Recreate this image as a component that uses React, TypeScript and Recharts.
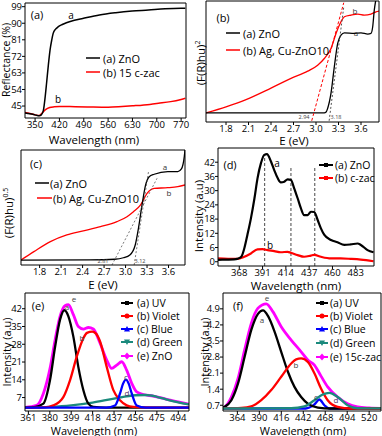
import React from 'react';
import { LineChart, Line, XAxis, YAxis, ReferenceLine } from 'recharts';

const FONT = '"Open Sans", sans-serif';
const W = 382;
const H = 436;

// ---------- Panel (a): reflectance ----------
const aTicksX = [350, 420, 490, 560, 630, 700, 770];
const aTicksY = [45, 54, 63, 72, 81, 90, 99];
const aZnOX = [321, 335, 350, 362, 368, 374, 379, 383, 388, 393, 398, 402, 409, 416, 428, 440, 463, 487, 535, 582, 629, 676, 724, 770, 782];
const aZnOY = [41.2, 40.8, 40.2, 39.7, 40.2, 42.8, 50, 57.4, 67, 75.4, 81, 84.5, 86.8, 88, 89.3, 90.3, 91.6, 92.6, 94.5, 95.7, 96.6, 97.2, 97.9, 98.1, 98.2];
const aCzacX = [321, 335, 350, 362, 370, 380, 392, 405, 420, 450, 500, 560, 600, 630, 680, 705, 740, 770, 782];
const aCzacY = [41.5, 41, 40.2, 39.9, 41.2, 43, 44.2, 44.6, 44.8, 44.7, 44.5, 44.3, 44.7, 45.1, 45.9, 46.5, 47.4, 48.6, 49.2];

// ---------- Panel (b): (F(R)hv)^2 ----------
const bTicksX = [1.8, 2.1, 2.4, 2.7, 3.0, 3.3, 3.6];
const bZnOX = [1.53, 2.5, 3.11, 3.135, 3.156, 3.2, 3.244, 3.289, 3.333, 3.378, 3.51, 3.6, 3.69, 3.733, 3.756, 3.777, 3.795];
const bZnOY = [7.5, 7.5, 7.6, 8.3, 11.4, 23.8, 45.6, 65, 71.8, 73.7, 73.2, 73.7, 72.7, 73.2, 78.7, 92.5, 100];
const bAgCuX = [1.533, 1.8, 2.067, 2.4, 2.667, 2.889, 3.022, 3.111, 3.2, 3.267, 3.333, 3.378, 3.467, 3.556, 3.644, 3.733, 3.8, 3.84];
const bAgCuY = [7.5, 12.5, 18.5, 28, 36, 42, 47, 52.5, 60.8, 73.2, 82.9, 87, 88.4, 89.2, 88.4, 89.2, 91.1, 91.7];

// ---------- Panel (c): (F(R)hv)^0.5 ----------
const cTicksX = [1.8, 2.1, 2.4, 2.7, 3.0, 3.3, 3.6];
const cZnOX = [1.54, 2.5, 2.85, 2.97, 3.06, 3.135, 3.18, 3.23, 3.28, 3.33, 3.4, 3.59, 3.73, 3.78, 3.82, 3.83];
const cZnOY = [4.3, 4.5, 5, 6.3, 8.7, 17.4, 31.9, 52.2, 69.6, 76.8, 78.9, 81.2, 81.2, 83.5, 94.2, 100];
const cAgCuX = [1.54, 1.72, 1.95, 2.18, 2.41, 2.65, 2.88, 3.02, 3.11, 3.21, 3.3, 3.4, 3.59, 3.73, 3.83];
const cAgCuY = [4.3, 11.6, 20.3, 26.1, 29.6, 33.3, 37.7, 42, 46.3, 52.2, 62.3, 66.7, 67.2, 68.1, 69.6];

// ---------- Panel (d): PL spectra ----------
const dTicksX = [368, 391, 414, 437, 460, 483];
const dTicksY = [0, 6, 12, 18, 24, 30, 36, 42];
const dZnOX = [347, 355, 363, 366, 370, 373, 376, 379.5, 383, 386, 389.4, 392.7, 395.3, 399.3, 402.5, 406, 409, 412.4, 415.7, 419, 422.2, 425.6, 428.8, 432, 435.5, 438.7, 442, 445.4, 448.6, 452, 458.5, 465, 471.6, 478, 484.8, 488, 494.6, 500.5];
const dZnOY = [0.8, 0.9, 1.0, 1.2, 2.1, 5.7, 11.3, 18.3, 26.8, 35.2, 41.6, 45.1, 45.4, 42.3, 38.7, 35.2, 33.5, 33.8, 34.8, 34.5, 31, 26.8, 22.6, 19.7, 19.7, 21.1, 21, 17.6, 14.1, 11.3, 9.2, 8.2, 7.1, 7.3, 7.7, 7.1, 4.9, 4];
const dCzacX = [347, 357, 366, 373, 379.5, 386, 391, 396, 402.5, 409, 415.7, 419, 425.6, 432, 438.7, 442, 448.6, 458.5, 468, 478, 488, 500.5];
const dCzacY = [1.4, 1.2, 1.2, 2.1, 3.5, 5.2, 5.3, 4.9, 4.5, 4.0, 4.2, 3.8, 2.8, 2.1, 2.6, 2.9, 2.1, 1.4, 1.4, 1.2, 0.9, 0.2];
const dPeaks = [393, 419, 442.5];
const dPeakTops = [45, 39.7, 39.7];

// ---------- Panel (e): ZnO deconvolution ----------
const eTicksX = [361, 380, 399, 418, 437, 456, 475, 494];
const eTicksY = [7, 14, 21, 28, 35, 42];
const eUVX = [358, 366, 374.3, 380.2, 384.7, 389.1, 392.9, 396.5, 400.9, 405.3, 409.8, 414.2, 418.6, 430, 460, 503.5];
const eUVY = [3.0, 3.2, 4.6, 13.9, 27, 37.7, 41.4, 39, 31, 19.1, 9.9, 4.6, 3.3, 3.0, 3.0, 3.0];
const eVioletX = [358, 375, 383.2, 392, 398, 403.9, 409.8, 413, 417.7, 421, 424.6, 430.5, 436.4, 442.3, 448.2, 454.1, 470, 503.5];
const eVioletY = [3.0, 3.1, 3.9, 7.2, 13.9, 23.1, 30.4, 32.5, 33, 32.2, 29.1, 19.1, 9.9, 5.9, 3.9, 3.3, 3.0, 3.0];
const eBlueX = [358, 430, 437.9, 442.3, 445, 447.6, 450, 452.7, 457.1, 465, 503.5];
const eBlueY = [3.0, 3.0, 3.9, 8.6, 12.5, 14.1, 12.5, 8.6, 3.9, 3.0, 3.0];
const eGreenX = [358, 380, 399, 418, 437, 456, 465, 475, 484, 494, 503.5];
const eGreenY = [3.0, 3.3, 3.9, 5.0, 6.6, 7.9, 8.0, 7.3, 6.2, 5.1, 4.3];
const eZnOX = [358, 368.4, 374.3, 380.2, 384.7, 389.1, 393.5, 396.5, 400.9, 405.3, 409.8, 414.2, 418.6, 424.6, 430.5, 434.9, 439.4, 443.8, 448.2, 452.7, 457.1, 463, 471.8, 483.7, 494, 503.5];
const eZnOY = [3.1, 3.9, 8.6, 18.5, 29.7, 39, 43.2, 43.6, 39.7, 35, 34, 34.6, 34, 28.4, 21.8, 18.5, 19.8, 21.1, 17.8, 12.6, 9.2, 8.2, 7.6, 6.3, 5.3, 4.4];

// ---------- Panel (f): 15c-zac deconvolution ----------
const fTicksX = [364, 390, 416, 442, 468, 494, 520];
const fTicksY = [0.7, 1.4, 2.1, 2.8, 3.5, 4.2, 4.9];
const fUVX = [347, 349, 356.9, 364.8, 372.6, 380.5, 388.4, 394.3, 400.2, 408, 415.9, 423.8, 431.6, 439.5, 447.4, 459.2, 475, 534];
const fUVY = [0.6, 0.63, 0.92, 1.65, 2.81, 3.98, 4.68, 4.83, 4.59, 3.91, 3.03, 2.16, 1.5, 1.06, 0.77, 0.6, 0.56, 0.56];
const fVioletX = [347, 368.7, 380.5, 392.3, 404.1, 415.9, 427.7, 433.6, 439.5, 447.4, 455.2, 463, 470.9, 482.7, 498.4, 534];
const fVioletY = [0.56, 0.58, 0.65, 0.92, 1.36, 1.94, 2.52, 2.7, 2.74, 2.59, 2.09, 1.43, 0.92, 0.63, 0.56, 0.56];
const fBlueX = [347, 445, 449.3, 455.2, 461.1, 467, 472.8, 534];
const fBlueY = [0.56, 0.56, 0.6, 0.74, 0.95, 0.7, 0.56, 0.56];
const fGreenX = [347, 427.7, 443.4, 455.2, 465, 472.8, 482.7, 494.5, 506.3, 534];
const fGreenY = [0.56, 0.57, 0.65, 0.92, 1.17, 1.24, 1.06, 0.7, 0.57, 0.56];
const fZacX = [347, 349, 356.9, 364.8, 372.6, 380.5, 388.4, 398.2, 406, 415.9, 427.7, 439.5, 447.4, 455.2, 463, 470.9, 482.7, 494.5, 506.3, 520, 534];
const fZacY = [0.6, 0.63, 1.06, 1.87, 3.11, 4.27, 4.93, 5.12, 4.78, 4.12, 3.54, 3.03, 2.67, 2.45, 1.97, 1.5, 1.06, 0.77, 0.63, 0.58, 0.56];

const RED = '#ff0000';
const BLUE = '#0000ff';
const TEAL = '#1b8a7c';
const MAGENTA = '#ff00ff';

const zip = (xs: number[], ys: number[]) => xs.map((x, i) => ({ x, y: ys[i] }));

type Frame = { L: number; T: number; R: number; B: number };

const tickStyle = { fontSize: 9.5, fill: '#000', fontFamily: FONT };

function Panel(props: {
  frame: Frame;
  xDomain: [number, number];
  yDomain: [number, number];
  xTicks: number[];
  yTicks?: number[];
  xFmt?: (v: number) => string;
  yFmt?: (v: number) => string;
  children?: React.ReactNode;
}) {
  const { frame, xDomain, yDomain, xTicks, yTicks, xFmt, yFmt, children } = props;
  const hasY = !!yTicks && yTicks.length > 0;
  return (
    <div style={{ position: 'absolute', left: 0, top: 0, width: W, height: H }}>
      <LineChart
        width={W}
        height={H}
        margin={{ left: frame.L - 1, top: frame.T - 1, right: W - frame.R - 1, bottom: H - frame.B - 1 }}
      >
        <XAxis
          xAxisId={0}
          type="number"
          dataKey="x"
          domain={xDomain}
          ticks={xTicks}
          interval={0}
          allowDataOverflow
          height={1}
          tickSize={3}
          tickMargin={0}
          stroke="#000"
          tick={tickStyle}
          tickFormatter={xFmt}
        />
        <XAxis xAxisId="top" orientation="top" type="number" domain={[0, 1]} height={1} tick={false} tickLine={false} stroke="#000" />
        <YAxis
          yAxisId={0}
          type="number"
          domain={yDomain}
          ticks={hasY ? yTicks : []}
          interval={0}
          allowDataOverflow
          width={1}
          tickSize={3}
          tickMargin={0}
          stroke="#000"
          tick={hasY ? tickStyle : false}
          tickLine={hasY}
          tickFormatter={yFmt}
        />
        <YAxis yAxisId="right" orientation="right" type="number" domain={[0, 1]} width={1} tick={false} tickLine={false} stroke="#000" />
        {children}
      </LineChart>
    </div>
  );
}

function Txt(props: { x: number; y: number; s: React.ReactNode; fs?: number; color?: string; rot?: boolean; start?: boolean }) {
  const { x, y, s, fs = 10, color = '#000', rot = false, start = false } = props;
  return (
    <div
      style={{
        position: 'absolute',
        left: x,
        top: y,
        fontSize: fs,
        color,
        fontFamily: FONT,
        whiteSpace: 'nowrap',
        lineHeight: 1,
        transform: `translate(${start ? '0' : '-50%'},-50%)${rot ? ' rotate(-90deg)' : ''}`,
      }}
    >
      {s}
    </div>
  );
}

function Swatch(props: { x: number; y: number; color: string; w?: number; marker?: 'square' | 'circle' | 'tri' | 'tridown' | 'diamond' }) {
  const { x, y, color, w = 14, marker } = props;
  const c = w / 2;
  return (
    <svg style={{ position: 'absolute', left: x, top: y - 5 }} width={w} height={10}>
      <line x1={0} y1={5} x2={w} y2={5} stroke={color} strokeWidth={marker ? 2 : 1.5} />
      {marker === 'square' && <rect x={c - 2} y={3} width={4} height={4} fill={color} />}
      {marker === 'circle' && <circle cx={c} cy={5} r={2.5} fill={color} />}
      {marker === 'tri' && <polygon points={`${c - 3},7.5 ${c + 3},7.5 ${c},2`} fill={color} />}
      {marker === 'tridown' && <polygon points={`${c - 3},2.5 ${c + 3},2.5 ${c},8`} fill={color} />}
      {marker === 'diamond' && <polygon points={`${c},1.5 ${c + 3},5 ${c},8.5 ${c - 3},5`} fill={color} />}
    </svg>
  );
}

const f1 = (v: number) => v.toFixed(1);

export default function App() {
  const sup = (t: string) => <sup style={{ fontSize: '0.6em' }}>{t}</sup>;
  return (
    <div style={{ position: 'absolute', left: 0, top: 0, width: W, height: H, background: '#fff', overflow: 'hidden' }}>
      {/* (a) */}
      <Panel frame={{ L: 25, T: 3, R: 186, B: 118 }} xDomain={[321, 784]} yDomain={[38.5, 101]} xTicks={aTicksX} yTicks={aTicksY}>
        <Line data={zip(aCzacX, aCzacY)} dataKey="y" type="monotone" stroke={RED} strokeWidth={1.5} dot={false} isAnimationActive={false} />
        <Line data={zip(aZnOX, aZnOY)} dataKey="y" type="monotone" stroke="#000" strokeWidth={1.5} dot={false} isAnimationActive={false} />
      </Panel>

      {/* (b) */}
      <Panel frame={{ L: 206, T: 1, R: 379, B: 122 }} xDomain={[1.533, 3.84]} yDomain={[0, 100]} xTicks={bTicksX} xFmt={f1}>
        <Line data={zip(bAgCuX, bAgCuY)} dataKey="y" type="monotone" stroke={RED} strokeWidth={1.3} dot={false} isAnimationActive={false} />
        <Line data={zip(bZnOX, bZnOY)} dataKey="y" type="monotone" stroke="#000" strokeWidth={1.3} dot={false} isAnimationActive={false} />
        <ReferenceLine segment={[{ x: 2.943, y: 1 }, { x: 3.37, y: 98.6 }]} stroke={RED} strokeDasharray="3 2" strokeWidth={1} ifOverflow="visible" />
        <ReferenceLine segment={[{ x: 3.175, y: 1 }, { x: 3.37, y: 95 }]} stroke="#555" strokeDasharray="2 2" strokeWidth={1} ifOverflow="visible" />
      </Panel>

      {/* (c) */}
      <Panel frame={{ L: 21, T: 150, R: 185, B: 265 }} xDomain={[1.54, 3.83]} yDomain={[0, 100]} xTicks={cTicksX} xFmt={f1}>
        <Line data={zip(cAgCuX, cAgCuY)} dataKey="y" type="monotone" stroke={RED} strokeWidth={1.3} dot={false} isAnimationActive={false} />
        <Line data={zip(cZnOX, cZnOY)} dataKey="y" type="monotone" stroke="#000" strokeWidth={1.3} dot={false} isAnimationActive={false} />
        <ReferenceLine segment={[{ x: 2.81, y: 0 }, { x: 3.44, y: 75.4 }]} stroke="#555" strokeDasharray="2 2" strokeWidth={0.8} ifOverflow="visible" />
        <ReferenceLine segment={[{ x: 3.12, y: 0 }, { x: 3.32, y: 81 }]} stroke="#555" strokeDasharray="2 2" strokeWidth={0.8} ifOverflow="visible" />
      </Panel>

      {/* (d) */}
      <Panel frame={{ L: 218, T: 148, R: 374, B: 266 }} xDomain={[347, 501]} yDomain={[-1.8, 48]} xTicks={dTicksX} yTicks={dTicksY}>
        {dPeaks.map((p, i) => (
          <ReferenceLine key={p} segment={[{ x: p, y: -1.8 }, { x: p, y: dPeakTops[i] }]} stroke="#666" strokeDasharray="3 2" strokeWidth={1.2} />
        ))}
        <Line data={zip(dCzacX, dCzacY)} dataKey="y" type="monotone" stroke={RED} strokeWidth={2.2} dot={false} isAnimationActive={false} />
        <Line data={zip(dZnOX, dZnOY)} dataKey="y" type="monotone" stroke="#000" strokeWidth={2.2} dot={false} isAnimationActive={false} />
      </Panel>

      {/* (e) */}
      <Panel frame={{ L: 25, T: 293, R: 189, B: 411 }} xDomain={[358, 503.5]} yDomain={[1.7, 48.2]} xTicks={eTicksX} yTicks={eTicksY}>
        <Line data={zip(eZnOX, eZnOY)} dataKey="y" type="monotone" stroke={MAGENTA} strokeWidth={2.8} dot={false} isAnimationActive={false} />
        <Line data={zip(eGreenX, eGreenY)} dataKey="y" type="monotone" stroke={TEAL} strokeWidth={2.3} dot={false} isAnimationActive={false} />
        <Line data={zip(eUVX, eUVY)} dataKey="y" type="monotone" stroke="#000" strokeWidth={2.3} dot={false} isAnimationActive={false} />
        <Line data={zip(eVioletX, eVioletY)} dataKey="y" type="monotone" stroke={RED} strokeWidth={2.3} dot={false} isAnimationActive={false} />
        <Line data={zip(eBlueX, eBlueY)} dataKey="y" type="monotone" stroke={BLUE} strokeWidth={2.3} dot={false} isAnimationActive={false} />
      </Panel>

      {/* (f) */}
      <Panel frame={{ L: 223, T: 293, R: 381, B: 411 }} xDomain={[347, 534]} yDomain={[0.45, 5.59]} xTicks={fTicksX} yTicks={fTicksY} yFmt={f1}>
        <Line data={zip(fZacX, fZacY)} dataKey="y" type="monotone" stroke={MAGENTA} strokeWidth={2.8} dot={false} isAnimationActive={false} />
        <Line data={zip(fBlueX, fBlueY)} dataKey="y" type="monotone" stroke={BLUE} strokeWidth={2.3} dot={false} isAnimationActive={false} />
        <Line data={zip(fUVX, fUVY)} dataKey="y" type="monotone" stroke="#000" strokeWidth={2.3} dot={false} isAnimationActive={false} />
        <Line data={zip(fVioletX, fVioletY)} dataKey="y" type="monotone" stroke={RED} strokeWidth={2.3} dot={false} isAnimationActive={false} />
        <Line data={zip(fGreenX, fGreenY)} dataKey="y" type="monotone" stroke={TEAL} strokeWidth={2.3} dot={false} isAnimationActive={false} />
      </Panel>

      {/* ---- text: panel (a) ---- */}
      <Txt x={37} y={14} s="(a)" fs={11} />
      <Txt x={71} y={15} s="a" fs={10} />
      <Txt x={58} y={99} s="b" fs={10} />
      <Swatch x={86} y={58} color="#000" />
      <Txt x={103} y={58} s="(a) ZnO" fs={11} start />
      <Swatch x={86} y={72} color={RED} />
      <Txt x={103} y={72} s="(b) 15 c-zac" fs={11} start />
      <Txt x={6} y={60} s="Reflectance (%)" fs={10.5} rot />
      <Txt x={94} y={140} s="Wavelength (nm)" fs={11.5} />

      {/* ---- panel (b) ---- */}
      <Txt x={223} y={17} s="(b)" fs={11} />
      <Swatch x={226} y={33} color="#000" />
      <Txt x={243} y={33} s="(a) ZnO" fs={11} start />
      <Swatch x={226} y={50} color={RED} />
      <Txt x={243} y={50} s="(b) Ag, Cu-ZnO10" fs={11} start />
      <Txt x={356} y={33} s="a" fs={8} color="#333" />
      <Txt x={355} y={11} s="b" fs={8} color="#333" />
      <Txt x={304} y={118} s="2.94" fs={5.5} color="#444" />
      <Txt x={336} y={118} s="3.18" fs={5.5} color="#444" />
      <Txt x={201} y={63} s={<span>(F(R)hu){sup('2')}</span>} fs={11.5} rot />
      <Txt x={294} y={141} s="E (eV)" fs={11.5} />

      {/* ---- panel (c) ---- */}
      <Txt x={36} y={163} s="(c)" fs={11} />
      <Swatch x={35} y={183} color="#000" w={14} />
      <Txt x={50} y={183} s="(a) ZnO" fs={11} start />
      <Swatch x={37} y={198} color={RED} w={15} />
      <Txt x={53} y={198} s="(b) Ag, Cu-ZnO10" fs={11} start />
      <Txt x={165} y={167} s="a" fs={8} color="#333" />
      <Txt x={169} y={193} s="b" fs={8} color="#333" />
      <Txt x={103} y={261.5} s="2.81" fs={5.5} color="#444" />
      <Txt x={140} y={261.5} s="3.12" fs={5.5} color="#444" />
      <Txt x={9} y={213} s={<span>(F(R)hu){sup('0.5')}</span>} fs={11.5} rot />
      <Txt x={103} y={284.5} s="E (eV)" fs={11.5} />

      {/* ---- panel (d) ---- */}
      <Txt x={230} y={164} s="(d)" fs={11} />
      <Txt x={277} y={163} s="a" fs={10} />
      <Txt x={270} y={245} s="b" fs={10} />
      <Swatch x={319} y={165} color="#000" marker="square" />
      <Txt x={335} y={165} s="(a) ZnO" fs={10.5} start />
      <Swatch x={319} y={178} color={RED} marker="square" />
      <Txt x={335} y={178} s="(b) c-zac" fs={10.5} start />
      <Txt x={199} y={216} s="Intensity (a.u)" fs={11.5} rot />
      <Txt x={296} y={285.5} s="Wavelength (nm)" fs={11.5} />

      {/* ---- panel (e) ---- */}
      <Txt x={38} y={305} s="(e)" fs={11} />
      <Txt x={74} y={299} s="e" fs={8} color="#444" />
      <Txt x={67} y={307} s="a" fs={8} color="#444" />
      <Txt x={82} y={338} s="b" fs={8} color="#444" />
      <Txt x={126} y={377} s="c" fs={8} color="#334" />
      <Txt x={127} y={393} s="d" fs={8} color="#536" />
      <Swatch x={121} y={303} color="#000" w={12} marker="square" />
      <Txt x={137} y={303} s="(a) UV" fs={10.5} start />
      <Swatch x={121} y={316} color={RED} w={12} marker="circle" />
      <Txt x={137} y={316} s="(b) Violet" fs={10.5} start />
      <Swatch x={121} y={329} color={BLUE} w={12} marker="tri" />
      <Txt x={137} y={329} s="(c) Blue" fs={10.5} start />
      <Swatch x={121} y={342} color={TEAL} w={12} marker="tridown" />
      <Txt x={137} y={342} s="(d) Green" fs={10.5} start />
      <Swatch x={121} y={356} color={MAGENTA} w={12} marker="diamond" />
      <Txt x={137} y={356} s="(e) ZnO" fs={10.5} start />
      <Txt x={6} y={352} s="Intensity (a.u)" fs={11} rot />
      <Txt x={94} y={430} s="Wavelength (nm)" fs={11} />

      {/* ---- panel (f) ---- */}
      <Txt x={238} y={305} s="(f)" fs={11} />
      <Txt x={267} y={298} s="e" fs={8} color="#444" />
      <Txt x={262} y={320} s="a" fs={8} color="#444" />
      <Txt x={296} y={365} s="b" fs={8} color="#444" />
      <Txt x={316} y={397} s="c" fs={8} color="#334" />
      <Txt x={336} y={400} s="d" fs={8} color="#536" />
      <Swatch x={316} y={303} color="#000" w={12} marker="square" />
      <Txt x={330} y={303} s="(a) UV" fs={10.5} start />
      <Swatch x={316} y={316} color={RED} w={12} marker="circle" />
      <Txt x={330} y={316} s="(b) Violet" fs={10.5} start />
      <Swatch x={316} y={329} color={BLUE} w={12} marker="tri" />
      <Txt x={330} y={329} s="(c) Blue" fs={10.5} start />
      <Swatch x={316} y={343} color={TEAL} w={12} marker="tridown" />
      <Txt x={330} y={343} s="(d) Green" fs={10.5} start />
      <Swatch x={316} y={357} color={MAGENTA} w={12} marker="diamond" />
      <Txt x={330} y={357} s="(e) 15c-zac" fs={10.5} start />
      <Txt x={204} y={352} s="Intensity (a.u)" fs={11} rot />
      <Txt x={303} y={430} s="Wavelength (nm)" fs={11} />
    </div>
  );
}
